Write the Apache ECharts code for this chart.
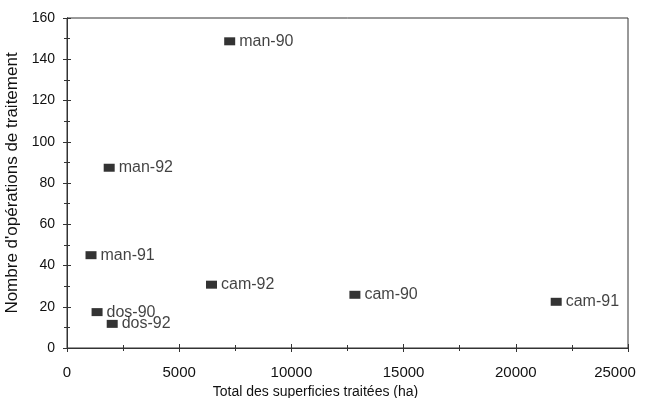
<!DOCTYPE html>
<html>
<head>
<meta charset="utf-8">
<script src="https://cdn.jsdelivr.net/npm/echarts@6/dist/echarts.min.js"></script>
<style>
  html, body { margin: 0; padding: 0; background: #fff; }
  #main { width: 645px; height: 398px; }
</style>
</head>
<body>
<div id="main"></div>
<script>
// données
const names = ['man-90', 'man-92', 'man-91', 'dos-90', 'dos-92', 'cam-92', 'cam-90', 'cam-91']
const surfaces = [7250, 1880, 1070, 1340, 2015, 6440, 12830, 21800]
const operations = [148.7, 87.4, 45, 17.4, 11.7, 30.7, 25.8, 22.4]

const FONT = 'Liberation Sans, Arial, sans-serif'
const INK = '#111'
const LINE = '#333'

const points = names.map((n, i) => ({ name: n, value: [surfaces[i], operations[i]] }))

// axe "fantôme" pour les graduations vers l'intérieur (les tirets traversent l'axe)
function innerTicks (base) {
  return Object.assign({}, base, {
    axisLine: { show: true, onZero: false, lineStyle: { color: LINE, width: 1 } },
    axisLabel: { show: false },
    name: '',
    axisTick: { show: true, inside: true, length: 4, lineStyle: { color: LINE } },
    minorTick: { show: true, splitNumber: 2, length: 3, lineStyle: { color: LINE } }
  })
}

const xBase = {
  type: 'value', min: 0, max: 25000, interval: 5000, position: 'bottom',
  splitLine: { show: false },
  axisLine: { onZero: false, lineStyle: { color: LINE, width: 1 } },
  axisTick: { show: true, length: 4, lineStyle: { color: LINE } },
  minorTick: { show: true, splitNumber: 2, length: 3, lineStyle: { color: LINE } },
  axisLabel: {
    color: INK, fontFamily: FONT, fontSize: 15, margin: 17,
    // le dernier libellé est décalé vers la gauche comme sur l'original
    formatter: v => v === 25000 ? '{last|' + v + '}' : String(v),
    rich: { last: { color: INK, fontFamily: FONT, fontSize: 15, padding: [0, 26, 0, 0] } }
  },
  name: 'Total des superficies traitées (ha)',
  nameLocation: 'middle',
  nameGap: 33,
  nameTextStyle: { color: INK, fontFamily: FONT, fontSize: 14, padding: [0, 64, 0, 0] }
}

const yBase = {
  type: 'value', min: 0, max: 160, interval: 20, position: 'left',
  splitLine: { show: false },
  axisLine: { onZero: false, lineStyle: { color: LINE, width: 1 } },
  axisTick: { show: true, length: 4, lineStyle: { color: LINE } },
  minorTick: { show: true, splitNumber: 2, length: 3, lineStyle: { color: LINE } },
  axisLabel: { color: INK, fontFamily: FONT, fontSize: 14, margin: 12 },
  name: "Nombre d'opérations de traitement",
  nameLocation: 'middle',
  nameGap: 30,
  nameTextStyle: { color: INK, fontFamily: FONT, fontSize: 17 }
}

const chart = echarts.init(document.getElementById('main'))
chart.setOption({
  animation: false,
  backgroundColor: '#fff',
  grid: {
    left: 67, right: 17, top: 18, bottom: 50,
    outerBoundsMode: 'none',
    containLabel: false,
    show: true, borderColor: LINE, borderWidth: 1, backgroundColor: 'transparent'
  },
  xAxis: [xBase, innerTicks(xBase)],
  yAxis: [yBase, innerTicks(yBase)],
  series: [{
    type: 'scatter',
    symbol: 'rect',
    symbolSize: [11, 8],
    itemStyle: { color: '#000' },
    label: {
      show: true,
      position: 'right',
      distance: 4,
      formatter: p => p.name,
      color: INK,
      fontFamily: FONT,
      fontSize: 16
    },
    data: points
  }]
})
</script>
</body>
</html>
